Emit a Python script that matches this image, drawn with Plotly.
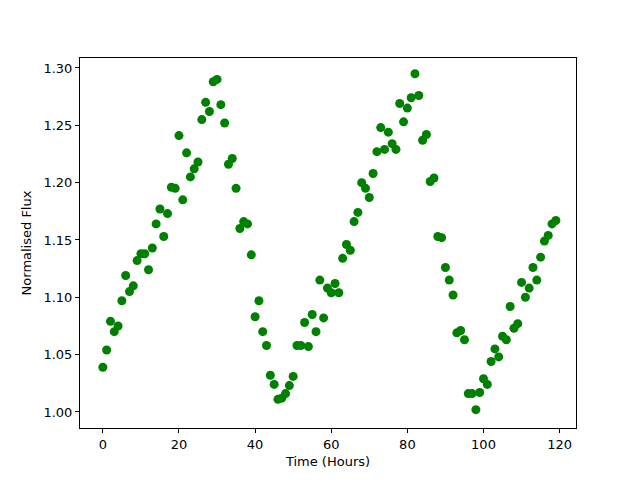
import plotly.graph_objects as go

time_hours = list(range(120))
flux = [1.039, 1.054, 1.079, 1.070, 1.075, 1.097, 1.119, 1.105, 1.110, 1.132,
        1.138, 1.138, 1.124, 1.143, 1.164, 1.177, 1.153, 1.173, 1.196, 1.195,
        1.241, 1.185, 1.226, 1.205, 1.212, 1.218, 1.255, 1.270, 1.262, 1.288,
        1.290, 1.268, 1.252, 1.216, 1.221, 1.195, 1.160, 1.166, 1.164, 1.137,
        1.083, 1.097, 1.070, 1.058, 1.032, 1.024, 1.011, 1.012, 1.016, 1.023,
        1.031, 1.058, 1.058, 1.078, 1.057, 1.085, 1.070, 1.115, 1.082, 1.108,
        1.104, 1.112, 1.104, 1.134, 1.146, 1.141, 1.166, 1.174, 1.200, 1.195,
        1.187, 1.208, 1.227, 1.248, 1.229, 1.244, 1.234, 1.229, 1.269, 1.253,
        1.265, 1.274, 1.295, 1.276, 1.237, 1.242, 1.201, 1.204, 1.153, 1.152,
        1.126, 1.115, 1.102, 1.069, 1.071, 1.063, 1.016, 1.016, 1.002, 1.017,
        1.029, 1.024, 1.044, 1.055, 1.048, 1.066, 1.063, 1.092, 1.073, 1.077,
        1.113, 1.100, 1.108, 1.126, 1.115, 1.135, 1.149, 1.154, 1.164, 1.167]

x_ticks = [0, 20, 40, 60, 80, 100, 120]
y_ticks = [1.00, 1.05, 1.10, 1.15, 1.20, 1.25, 1.30]

fig = go.Figure(go.Scatter(
    x=time_hours, y=flux, mode="markers",
    marker=dict(color="#008000", size=9, line=dict(width=0)),
))

axis_common = dict(
    showgrid=False, zeroline=False, showline=True, linecolor="black",
    linewidth=1, mirror=True, ticks="outside", ticklen=4, tickcolor="black",
    tickfont=dict(family="DejaVu Sans", size=13, color="black"),
)
fig.update_xaxes(range=[-6.0, 124.3], tickvals=x_ticks,
                 title=dict(text="Time (Hours)", font=dict(family="DejaVu Sans", size=13, color="black"), standoff=6),
                 **axis_common)
fig.update_yaxes(range=[0.986, 1.3087], tickvals=y_ticks,
                 ticktext=[f"{v:.2f}" for v in y_ticks],
                 title=dict(text="Normalised Flux", font=dict(family="DejaVu Sans", size=13, color="black"), standoff=8),
                 **axis_common)
fig.update_layout(
    width=640, height=480, plot_bgcolor="white", paper_bgcolor="white",
    margin=dict(l=72, r=72, t=50, b=60), showlegend=False,
)
fig.write_html("out.html")
